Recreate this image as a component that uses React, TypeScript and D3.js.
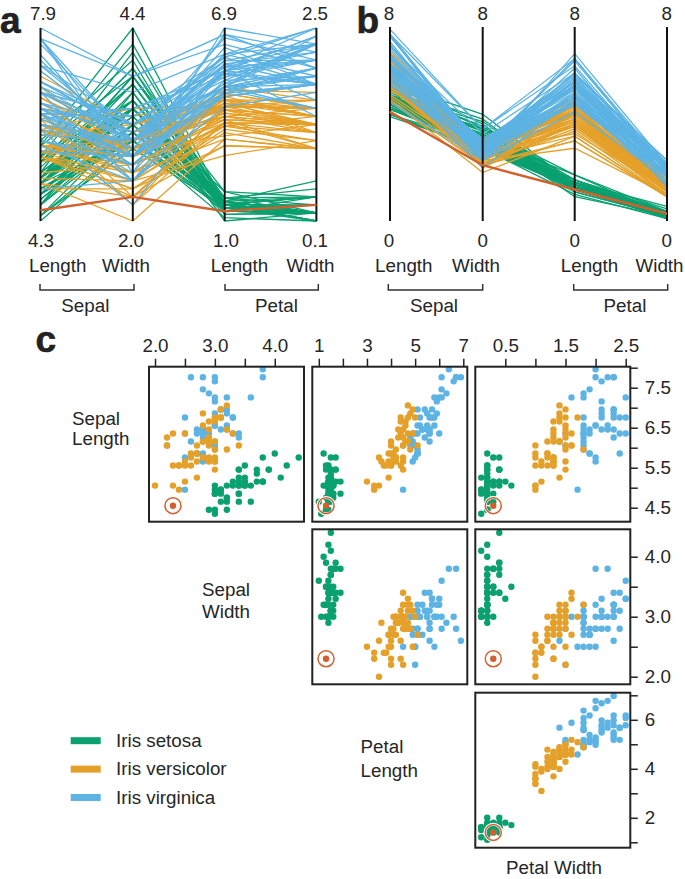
import React, { useEffect, useRef } from 'react';
import * as d3 from 'd3';

// rows: 50 setosa, 50 versicolor, 50 virginica
const sepalLength = [
  5.1,4.9,4.7,4.6,5.0,5.4,4.6,5.0,4.4,4.9,5.4,4.8,4.8,4.3,5.8,5.7,5.4,5.1,5.7,5.1,5.4,5.1,4.6,5.1,4.8,5.0,5.0,5.2,5.2,4.7,4.8,5.4,5.2,5.5,4.9,5.0,5.5,4.9,4.4,5.1,5.0,4.5,4.4,5.0,5.1,4.8,5.1,4.6,5.3,5.0,
  7.0,6.4,6.9,5.5,6.5,5.7,6.3,4.9,6.6,5.2,5.0,5.9,6.0,6.1,5.6,6.7,5.6,5.8,6.2,5.6,5.9,6.1,6.3,6.1,6.4,6.6,6.8,6.7,6.0,5.7,5.5,5.5,5.8,6.0,5.4,6.0,6.7,6.3,5.6,5.5,5.5,6.1,5.8,5.0,5.6,5.7,5.7,6.2,5.1,5.7,
  6.3,5.8,7.1,6.3,6.5,7.6,4.9,7.3,6.7,7.2,6.5,6.4,6.8,5.7,5.8,6.4,6.5,7.7,7.7,6.0,6.9,5.6,7.7,6.3,6.7,7.2,6.2,6.1,6.4,7.2,7.4,7.9,6.4,6.3,6.1,7.7,6.3,6.4,6.0,6.9,6.7,6.9,5.8,6.8,6.7,6.7,6.3,6.5,6.2,5.9,
];
const sepalWidth = [
  3.5,3.0,3.2,3.1,3.6,3.9,3.4,3.4,2.9,3.1,3.7,3.4,3.0,3.0,4.0,4.4,3.9,3.5,3.8,3.8,3.4,3.7,3.6,3.3,3.4,3.0,3.4,3.5,3.4,3.2,3.1,3.4,4.1,4.2,3.1,3.2,3.5,3.1,3.0,3.4,3.5,2.3,3.2,3.5,3.8,3.0,3.8,3.2,3.7,3.3,
  3.2,3.2,3.1,2.3,2.8,2.8,3.3,2.4,2.9,2.7,2.0,3.0,2.2,2.9,2.9,3.1,3.0,2.7,2.2,2.5,3.2,2.8,2.5,2.8,2.9,3.0,2.8,3.0,2.9,2.6,2.4,2.4,2.7,2.7,3.0,3.4,3.1,2.3,3.0,2.5,2.6,3.0,2.6,2.3,2.7,3.0,2.9,2.9,2.5,2.8,
  3.3,2.7,3.0,2.9,3.0,3.0,2.5,2.9,2.5,3.6,3.2,2.7,3.0,2.5,2.8,3.2,3.0,3.8,2.6,2.2,3.2,2.8,2.8,2.7,3.3,3.2,2.8,3.0,2.8,3.0,2.8,3.8,2.8,2.8,2.6,3.0,3.4,3.1,3.0,3.1,3.1,3.1,2.7,3.2,3.3,3.0,2.5,3.0,3.4,3.0,
];
const petalLength = [
  1.4,1.4,1.3,1.5,1.4,1.7,1.4,1.5,1.4,1.5,1.5,1.6,1.4,1.1,1.2,1.5,1.3,1.4,1.7,1.5,1.7,1.5,1.0,1.7,1.9,1.6,1.6,1.5,1.4,1.6,1.6,1.5,1.5,1.4,1.5,1.2,1.3,1.5,1.3,1.5,1.3,1.3,1.3,1.6,1.9,1.4,1.6,1.4,1.5,1.4,
  4.7,4.5,4.9,4.0,4.6,4.5,4.7,3.3,4.6,3.9,3.5,4.2,4.0,4.7,3.6,4.4,4.5,4.1,4.5,3.9,4.8,4.0,4.9,4.7,4.3,4.4,4.8,5.0,4.5,3.5,3.8,3.7,3.9,5.1,4.5,4.5,4.7,4.4,4.1,4.0,4.4,4.6,4.0,3.3,4.2,4.2,4.2,4.3,3.0,4.1,
  6.0,5.1,5.9,5.6,5.8,6.6,4.5,6.3,5.8,6.1,5.1,5.3,5.5,5.0,5.1,5.3,5.5,6.7,6.9,5.0,5.7,4.9,6.7,4.9,5.7,6.0,4.8,4.9,5.6,5.8,6.1,6.4,5.6,5.1,5.6,6.1,5.6,5.5,4.8,5.4,5.6,5.1,5.1,5.9,5.7,5.2,5.0,5.2,5.4,5.1,
];
const petalWidth = [
  0.2,0.2,0.2,0.2,0.2,0.4,0.3,0.2,0.2,0.1,0.2,0.2,0.1,0.1,0.2,0.4,0.4,0.3,0.3,0.3,0.2,0.4,0.2,0.5,0.2,0.2,0.4,0.2,0.2,0.2,0.2,0.4,0.1,0.2,0.1,0.2,0.2,0.1,0.2,0.2,0.3,0.3,0.2,0.6,0.4,0.3,0.2,0.2,0.2,0.2,
  1.4,1.5,1.5,1.3,1.5,1.3,1.6,1.0,1.3,1.4,1.0,1.5,1.0,1.4,1.3,1.4,1.5,1.0,1.5,1.1,1.8,1.3,1.5,1.2,1.3,1.4,1.4,1.7,1.5,1.0,1.1,1.0,1.2,1.6,1.5,1.6,1.5,1.3,1.3,1.3,1.2,1.4,1.2,1.0,1.3,1.2,1.3,1.3,1.1,1.3,
  2.5,1.9,2.1,1.8,2.2,2.1,1.7,1.8,1.8,2.5,2.0,1.9,2.1,2.0,2.4,2.3,1.8,2.2,2.3,1.5,2.3,2.0,2.0,1.8,2.1,1.8,1.8,1.8,2.1,1.6,1.9,2.0,2.2,1.5,1.4,2.3,2.4,1.8,1.8,2.1,2.4,2.3,1.9,2.3,2.5,2.3,1.9,2.0,2.3,1.8,
];

const speciesNames = ['Iris setosa', 'Iris versicolor', 'Iris virginica'];
const speciesColors = ['#0aa070', '#e5a029', '#5cb3e4'];
const highlightColor = '#d2602c';
const highlightIndex = 41;
const inkColor = '#262626';

const measures = [sepalLength, sepalWidth, petalLength, petalWidth];
const axisExtents = [[4.3, 7.9], [2.0, 4.4], [1.0, 6.9], [0.1, 2.5]];
const axisNames = ['Length', 'Width', 'Length', 'Width'];
const fontFamily = '"Liberation Sans", Arial, sans-serif';

const speciesOf = (i: number) => Math.floor(i / 50);

function App() {
  const ref = useRef<SVGSVGElement>(null);

  useEffect(() => {
    const svg = d3.select(ref.current);
    svg.selectAll('*').remove();

    const label = (x: number, y: number, text: string, anchor = 'middle', size = 18.8) =>
      svg.append('text').attr('x', x).attr('y', y).attr('text-anchor', anchor)
        .attr('font-size', size).attr('fill', inkColor).text(text);

    const panelLetter = (x: number, y: number, text: string) =>
      svg.append('text').attr('x', x).attr('y', y)
        .attr('font-weight', 700).attr('font-size', 37)
        .attr('stroke', '#222').attr('stroke-width', 0.6).attr('fill', '#222').text(text);

    // parallel coordinates, a and b
    const drawParallel = (
      axisX: number[],
      yScales: d3.ScaleLinear<number, number>[],
      topLabels: string[],
      topX: number[],
      botLabels: string[],
      botX: number[],
      nameX: number[],
      brackets: number[][],
      groupX: number[],
    ) => {
      const line = d3.line<number>().x((_, k) => axisX[k]).y((d, k) => yScales[k](d));
      const row = (i: number) => measures.map(m => m[i]);
      const idx = d3.range(150).filter(i => i !== highlightIndex);
      svg.append('g').attr('fill', 'none').attr('stroke-width', 1.3)
        .selectAll('path').data(idx).join('path')
        .attr('d', i => line(row(i)))
        .attr('stroke', i => speciesColors[speciesOf(i)]);
      svg.append('g').selectAll('line').data(axisX).join('line')
        .attr('x1', d => d).attr('x2', d => d)
        .attr('y1', yScales[0].range()[1]).attr('y2', yScales[0].range()[0])
        .attr('stroke', '#111').attr('stroke-width', 2);
      svg.append('path').attr('fill', 'none').attr('stroke', highlightColor).attr('stroke-width', 2.4)
        .attr('d', line(row(highlightIndex)));
      axisX.forEach((_, k) => {
        label(topX[k], 20, topLabels[k]);
        label(botX[k], 247, botLabels[k]);
        label(nameX[k], 271.5, axisNames[k]);
      });
      brackets.forEach(([a, b], k) => {
        svg.append('path').attr('fill', 'none').attr('stroke', '#333').attr('stroke-width', 1.5)
          .attr('d', `M${a},284V290H${b}V284`);
        label(groupX[k], 311.5, k === 0 ? 'Sepal' : 'Petal');
      });
    };

    drawParallel(
      [40.5, 132.8, 224.7, 316.4],
      axisExtents.map(e => d3.scaleLinear().domain(e).range([221, 28])),
      axisExtents.map(e => e[1].toFixed(1)),
      [43, 132.5, 224, 315],
      axisExtents.map(e => e[0].toFixed(1)),
      [41, 131, 226, 315],
      [57.7, 126, 239.5, 310.5],
      [[40, 134], [225, 318.3]],
      [85.3, 276.5],
    );
    drawParallel(
      [390, 482.7, 574.7, 667],
      axisExtents.map(() => d3.scaleLinear().domain([0, 8]).range([221, 27])),
      ['8', '8', '8', '8'],
      [389, 482.7, 574.7, 666.7],
      ['0', '0', '0', '0'],
      [389, 482.7, 574.7, 666.7],
      [403.8, 476, 589.5, 659.5],
      [[388.3, 482.7], [573.7, 667.7]],
      [434, 625],
    );

    panelLetter(0, 33, 'a');
    panelLetter(356.5, 33, 'b');
    panelLetter(35.5, 352, 'c');

    // scatter matrix, c
    const colLeft = [149, 312.3, 475.3];
    const rowTop = [366.7, 529.3, 692.7];
    const frameSize = 155;

    const xOf = [
      { data: sepalWidth, scale: d3.scaleLinear().domain([2, 4.4]).range([6, 149.7]), ticks: d3.range(2, 4.01, 0.5), labelled: [2, 3, 4], fmt: '.1f' },
      { data: petalLength, scale: d3.scaleLinear().domain([1, 7]).range([6.5, 151]), ticks: d3.range(1, 7.01, 1), labelled: [1, 3, 5, 7], fmt: 'd' },
      { data: petalWidth, scale: d3.scaleLinear().domain([0.5, 2.5]).range([30, 150.4]), ticks: [0.5, 1, 1.5, 2, 2.5], labelled: [0.5, 1.5, 2.5], fmt: '.1f' },
    ];
    const yOf = [
      { data: sepalLength, scale: d3.scaleLinear().domain([4.3, 7.9]).range([147, 2.6]), tickScale: d3.scaleLinear().domain([4.5, 8]).range([141, 1]), ticks: d3.range(4.5, 8.01, 0.5), labelled: [4.5, 5.5, 6.5, 7.5], fmt: '.1f' },
      { data: sepalWidth, scale: d3.scaleLinear().domain([2, 4.4]).range([147.4, 3.4]), tickScale: d3.scaleLinear().domain([2, 4.4]).range([147.4, 3.4]), ticks: d3.range(2, 4.01, 0.5), labelled: [2, 3, 4], fmt: '.1f' },
      { data: petalLength, scale: d3.scaleLinear().domain([1, 6.9]).range([147, 3.3]), tickScale: d3.scaleLinear().domain([1, 7]).range([149.6, 2.6]), ticks: d3.range(1, 7.01, 1), labelled: [2, 4, 6], fmt: 'd' },
    ];

    const panels = [[0, 0], [0, 1], [0, 2], [1, 1], [1, 2], [2, 2]];
    panels.forEach(([r, c]) => {
      const g = svg.append('g').attr('transform', `translate(${colLeft[c]},${rowTop[r]})`);
      const X = xOf[c];
      const Y = yOf[r];
      // virginica first, versicolor sits on top of it in the overlaps
      const order = d3.range(150).filter(i => i !== highlightIndex).sort((a, b) => speciesOf(b) - speciesOf(a));
      g.append('g').selectAll('circle').data(order).join('circle')
        .attr('cx', i => X.scale(X.data[i]))
        .attr('cy', i => Y.scale(Y.data[i]))
        .attr('r', 3.2)
        .attr('fill', i => speciesColors[speciesOf(i)]);
      const hx = X.scale(X.data[highlightIndex]);
      const hy = Y.scale(Y.data[highlightIndex]);
      g.append('circle').attr('cx', hx).attr('cy', hy).attr('r', 8.2).attr('fill', 'none')
        .attr('stroke', '#fff').attr('stroke-width', 3);
      g.append('circle').attr('cx', hx).attr('cy', hy).attr('r', 8).attr('fill', 'none')
        .attr('stroke', highlightColor).attr('stroke-width', 1.5);
      g.append('circle').attr('cx', hx).attr('cy', hy).attr('r', 3.2).attr('fill', highlightColor);
      g.append('rect').attr('width', frameSize).attr('height', frameSize)
        .attr('fill', 'none').attr('stroke', '#222').attr('stroke-width', 2);

      if (r === 0) {
        const top = g.append('g').call(
          d3.axisTop(X.scale).tickValues(X.ticks).tickSize(8).tickPadding(7)
            .tickFormat(d => (X.labelled.includes(+d) ? d3.format(X.fmt)(+d) : '')),
        );
        styleAxis(top);
      }
      if (c === 2) {
        const right = g.append('g').attr('transform', `translate(${frameSize},0)`).call(
          d3.axisRight(Y.tickScale).tickValues(Y.ticks).tickSize(7.5).tickPadding(7)
            .tickFormat(d => (Y.labelled.includes(+d) ? d3.format(Y.fmt)(+d) : '')),
        );
        styleAxis(right);
      }
    });

    label(72, 425, 'Sepal', 'start');
    label(72, 444.5, 'Length', 'start');
    label(202, 596, 'Sepal', 'start');
    label(202, 618, 'Width', 'start');
    label(360.5, 753, 'Petal', 'start');
    label(360.5, 776.5, 'Length', 'start');
    label(554, 874, 'Petal Width');

    // legend
    const legendY = d3.scalePoint<string>().domain(speciesNames).range([740.7, 797.5]);
    speciesNames.forEach((name, k) => {
      svg.append('rect').attr('x', 70.7).attr('y', legendY(name)! - 3.5).attr('width', 30).attr('height', 7)
        .attr('fill', speciesColors[k]);
      label(116, legendY(name)! + 6.3, name, 'start');
    });
  }, []);

  return (
    <svg
      ref={ref}
      width={685}
      height={879}
      fontFamily={fontFamily}
      style={{ position: 'absolute', left: 0, top: 0, background: '#fff' }}
    />
  );
}

function styleAxis(sel: any) {
  sel.select('.domain').remove();
  sel.selectAll('.tick line').attr('stroke', '#222').attr('stroke-width', 1.5);
  sel.selectAll('.tick text').attr('font-size', 18.8).attr('font-family', fontFamily).attr('fill', inkColor);
}

export default App;
